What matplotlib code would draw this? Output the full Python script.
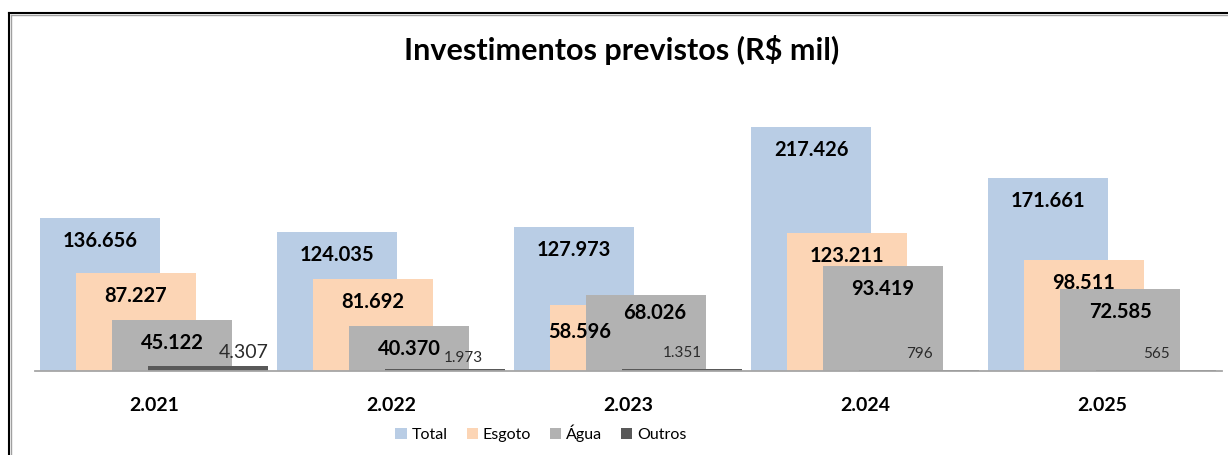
import numpy as np
import matplotlib.pyplot as plt
from matplotlib.lines import Line2D

# investimentos previstos, R$ mil
anos = ['2.021', '2.022', '2.023', '2.024', '2.025']
total = [136656, 124035, 127973, 217426, 171661]
esgoto = [87227, 81692, 58596, 123211, 98511]
agua = [45122, 40370, 68026, 93419, 72585]
outros = [4307, 1973, 1351, 796, 565]

series_names = ['Total', 'Esgoto', 'Água', 'Outros']
series_vals = [total, esgoto, agua, outros]
cores = ['#B9CDE5', '#FCD5B5', '#B2B2B2', '#595959']

plt.rcParams['font.family'] = ['Lato', 'DejaVu Sans']

fig = plt.figure(figsize=(12.28, 4.55), dpi=100)
ax = fig.add_axes([35 / 1228, 84 / 455, 1187 / 1228, 269.5 / 455])

x = np.arange(len(anos))
largura = 0.506
passo = 0.152

# manual label nudges in pixels, like the excel sheet had them
nudges = {(1, 2): (-30, -4), (2, 2): (9, 5), (3, 0): (36, -2), (3, 1): (18, -5)}

for i, (nome, vals) in enumerate(zip(series_names, series_vals)):
    pos = x + (i - 1.5) * passo
    ax.bar(pos, vals, width=largura, color=cores[i], label=nome, zorder=2 + i)
    for j, v in enumerate(vals):
        dx, dy = nudges.get((i, j), (0, 0))
        txt = f'{v:,}'.replace(',', '.')
        if i < 3:
            ax.annotate(txt, xy=(pos[j], v), xytext=(dx, -23 + dy),
                        textcoords='offset pixels', ha='center', va='center',
                        fontsize=14.5, fontweight='bold', color='black', zorder=10)
        else:
            tam = 14 if j == 0 else 11
            ax.annotate(txt, xy=(pos[j], v), xytext=(dx, 16 + dy),
                        textcoords='offset pixels', ha='center', va='center',
                        fontsize=tam, color='#2b2b2b', zorder=10)

ax.set_xlim(-0.502, 4.506)
ax.set_ylim(0, 240000)
ax.set_xticks(x)
ax.set_xticklabels(anos, fontsize=14, fontweight='bold')
ax.tick_params(axis='x', length=0, pad=19)
ax.set_yticks([])
for s in ['top', 'right', 'left']:
    ax.spines[s].set_visible(False)
ax.spines['bottom'].set_color('#A6A6A6')
ax.spines['bottom'].set_linewidth(1.3)
ax.spines['bottom'].set_zorder(20)

fig.text(622 / 1228, 1 - 50 / 455, 'Investimentos previstos (R$ mil)',
         ha='center', va='center', fontsize=22, fontweight='bold')

fig.legend(loc='center', bbox_to_anchor=(541 / 1228, 1 - 433 / 455), ncol=4,
           frameon=False, fontsize=11.5, handlelength=0.7, handleheight=0.7,
           handletextpad=0.3, columnspacing=1.2)

# frame lines at top and left
fig.add_artist(Line2D([9 / 1228, 9 / 1228], [0, 1 - 13 / 455], color='black', lw=1.5))
fig.add_artist(Line2D([9 / 1228, 1], [1 - 13 / 455, 1 - 13 / 455], color='black', lw=1.5))
fig.add_artist(Line2D([11 / 1228, 11 / 1228], [0, 1 - 15 / 455], color='#A0A0A0', lw=1))
fig.add_artist(Line2D([11 / 1228, 1], [1 - 15 / 455, 1 - 15 / 455], color='#A0A0A0', lw=1))

fig.savefig('out.png', dpi=100)
